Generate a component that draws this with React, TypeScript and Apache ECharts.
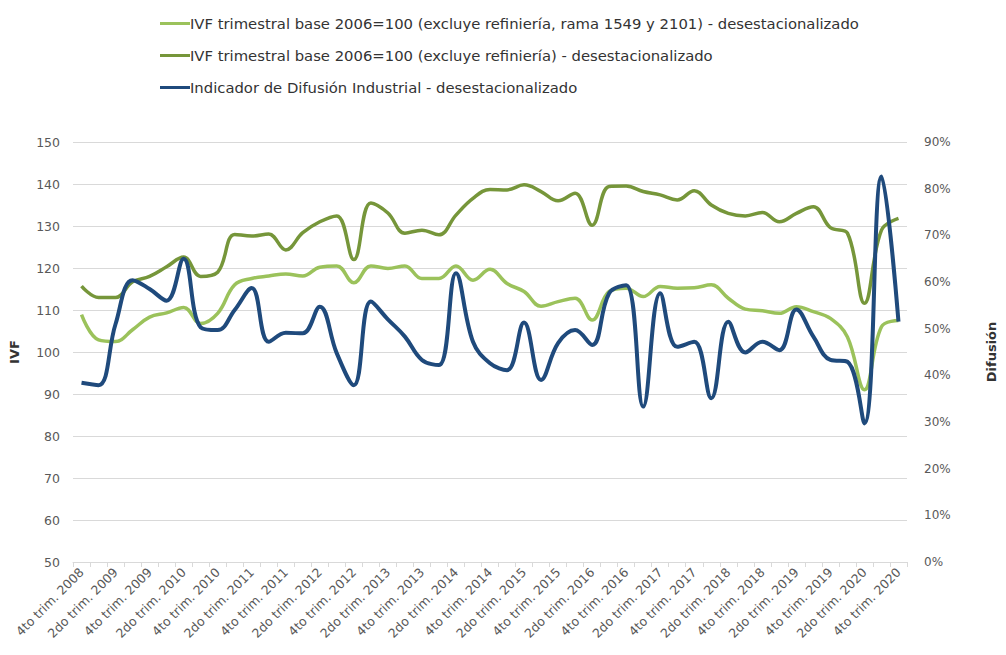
import React, { useEffect, useRef } from "react";
import * as echarts from "echarts";

const quarters: string[] = [];
for (let y = 2008; y <= 2020; y++) {
  const qs = y === 2008 ? ["4to"] : ["1er", "2do", "3er", "4to"];
  for (const q of qs) quarters.push(`${q} trim. ${y}`);
}

const ivfSinRamas = [
  108.9, 102.9, 102.5, 105.3, 108.3, 109.3, 110.6, 106.8, 109.2, 116.0,
  117.5, 118.1, 118.6, 118.1, 120.2, 120.5, 116.5, 120.5, 119.9, 120.5,
  117.5, 117.5, 120.5, 117.1, 119.7, 116.3, 114.4, 110.9, 112.0, 112.8,
  107.6, 114.4, 115.2, 113.2, 115.6, 115.2, 115.3, 116.0, 112.8, 110.2,
  109.8, 109.2, 110.8, 109.6, 108.0, 103.6, 91.0, 106.0, 107.5,
];

const ivfSinRefineria = [
  115.7, 113.0, 113.0, 116.7, 118.0, 120.3, 122.6, 118.0, 119.0, 128.0,
  127.6, 128.1, 124.3, 128.4, 131.0, 132.4, 122.0, 135.5, 133.1, 128.3,
  129.0, 127.9, 132.6, 136.6, 138.7, 138.6, 139.8, 138.2, 136.0, 137.8,
  130.2, 139.4, 139.5, 138.2, 137.4, 136.2, 138.4, 135.0, 133.0, 132.4,
  133.2, 131.0, 133.0, 134.6, 129.6, 128.3, 111.6, 129.0, 131.8,
];

const difusion = [
  38.4, 37.9, 51.0, 60.4, 58.5, 56.0, 65.0, 50.3, 49.7, 54.0,
  58.7, 47.2, 49.1, 49.0, 54.7, 44.7, 37.9, 55.8, 52.0, 48.3,
  43.3, 42.2, 61.9, 47.2, 42.6, 41.1, 51.3, 39.0, 46.9, 49.7,
  46.5, 57.6, 59.3, 33.3, 57.6, 46.1, 47.2, 35.1, 51.5, 44.9,
  47.2, 45.4, 54.1, 48.3, 43.3, 42.9, 29.7, 82.6, 51.5,
];

const seriesNames = [
  "IVF trimestral base 2006=100 (excluye refiniería, rama 1549 y 2101) - desestacionalizado",
  "IVF trimestral base 2006=100 (excluye refiniería) - desestacionalizado",
  "Indicador de Difusión Industrial - desestacionalizado",
];
const colors = ["#9BC25B", "#76963A", "#1F4A7C"];

const FONT = "'DejaVu Sans', sans-serif";

export default function App() {
  const ref = useRef<HTMLDivElement>(null);
  useEffect(() => {
    if (!ref.current) return;
    const chart = echarts.init(ref.current, undefined, { renderer: "svg" });
    const lineSeries = (i: number, data: number[], yAxisIndex: number, width: number) => ({
      name: seriesNames[i],
      type: "line",
      data,
      yAxisIndex,
      smooth: 0.4,
      symbol: "none",
      lineStyle: { color: colors[i], width },
      itemStyle: { color: colors[i] },
    });
    chart.setOption({
      animation: false,
      textStyle: { fontFamily: FONT },
      legend: {
        orient: "vertical",
        left: 155,
        top: 11,
        itemGap: 17,
        itemWidth: 30,
        itemHeight: 3,
        icon: "rect",
        textStyle: { fontFamily: FONT, fontSize: 14.8, color: "#333333", padding: [0, 0, 0, -5] },
        data: seriesNames,
      },
      grid: { left: 73, right: 90, top: 142, bottom: 93, containLabel: false },
      xAxis: {
        type: "category",
        data: quarters,
        boundaryGap: true,
        axisLine: { lineStyle: { color: "#d9d9d9", width: 1 } },
        axisTick: { show: true, interval: 0, length: 5, lineStyle: { color: "#d9d9d9" } },
        axisLabel: {
          interval: 1,
          rotate: 45,
          fontFamily: FONT,
          fontSize: 12.5,
          color: "#595959",
          margin: 8,
        },
      },
      yAxis: [
        {
          type: "value",
          min: 50,
          max: 150,
          interval: 10,
          name: "IVF",
          nameLocation: "middle",
          nameRotate: 90,
          nameGap: 52,
          nameTextStyle: { fontFamily: FONT, fontSize: 13, color: "#333333", fontWeight: "bold" },
          axisLine: { show: false },
          axisTick: { show: false },
          axisLabel: { fontFamily: FONT, fontSize: 12.5, color: "#595959", margin: 13 },
          splitLine: { lineStyle: { color: "#d9d9d9", width: 1 } },
        },
        {
          type: "value",
          min: 0,
          max: 90,
          interval: 10,
          name: "Difusión",
          nameLocation: "middle",
          nameRotate: 90,
          nameGap: 78,
          nameTextStyle: { fontFamily: FONT, fontSize: 13, color: "#333333", fontWeight: "bold" },
          axisLine: { show: false },
          axisTick: { show: false },
          axisLabel: { fontFamily: FONT, fontSize: 12, color: "#595959", margin: 17, formatter: "{value}%" },
          splitLine: { show: false },
        },
      ],
      series: [
        lineSeries(0, ivfSinRamas, 0, 3.5),
        lineSeries(1, ivfSinRefineria, 0, 3.5),
        lineSeries(2, difusion, 1, 4),
      ],
    });
    return () => chart.dispose();
  }, []);
  return <div ref={ref} style={{ width: 1006, height: 655, margin: -8 }} />;
}
